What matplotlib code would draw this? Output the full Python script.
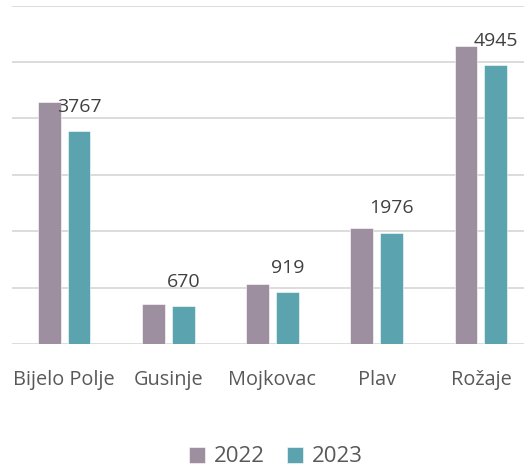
import matplotlib.pyplot as plt
import numpy as np

plt.rcParams['font.family'] = ['Open Sans', 'DejaVu Sans']

towns = ["Bijelo Polje", "Gusinje", "Mojkovac", "Plav", "Rožaje"]
v2022 = [4295, 709, 1058, 2056, 5282]
v2023 = [3767, 670, 919, 1976, 4945]

c2022 = "#9e8fa0"
c2023 = "#5aa3af"

fig = plt.figure(figsize=(5.24, 4.66), dpi=100)
ax = fig.add_axes([12/524, 122/466, 521/524, 338.5/466])

x = np.arange(len(towns))
w = 0.22
b1 = ax.bar(x - 0.143, v2022, w, color=c2022, edgecolor="white", linewidth=0.4, label="2022", zorder=3)
b2 = ax.bar(x + 0.143, v2023, w, color=c2023, edgecolor="white", linewidth=0.4, label="2023", zorder=3)

for xi, v in zip(x, v2023):
    ax.annotate(str(v), (xi + 0.143, v), xytext=(0, 11), textcoords="offset points",
                ha="center", va="bottom", fontsize=14, color="#404040", zorder=4)

ax.set_xlim(-0.5, len(towns) - 0.5)
ax.set_ylim(0, 6000)
ax.set_yticks(np.arange(0, 6001, 1000))
ax.yaxis.grid(True, color="#d9d9d9", linewidth=1.3, zorder=0)
ax.tick_params(axis="y", left=False, labelleft=False)
ax.set_xticks(x)
ax.set_xticklabels(towns, fontsize=14.3, color="#595959")
ax.tick_params(axis="x", length=0, pad=19)
for s in ["top", "right", "left", "bottom"]:
    ax.spines[s].set_visible(False)

fig.legend(handles=[b1, b2], loc="center", bbox_to_anchor=(276/524, 1 - 457/466), ncol=2,
           frameon=False, fontsize=16, handlelength=0.72, handleheight=0.72,
           handletextpad=0.4, columnspacing=1.0, labelcolor="#595959")

fig.savefig("out.png", dpi=100)
